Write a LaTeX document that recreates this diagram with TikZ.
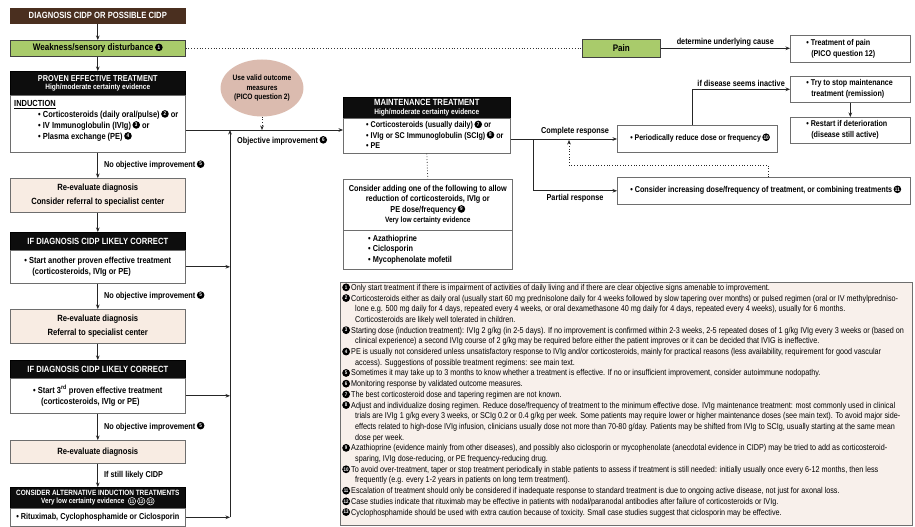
\documentclass[tikz,border=0pt]{standalone}
\usepackage{fontspec}
\setmainfont{Liberation Sans}[FakeStretch=0.85]
\usetikzlibrary{shapes.geometric,arrows.meta}

\definecolor{brownh}{HTML}{4A2F1F}
\definecolor{greenb}{HTML}{A9CB6B}
\definecolor{peach}{HTML}{F8ECE3}
\definecolor{ovalc}{HTML}{DBBBAF}
\definecolor{fnbg}{HTML}{F8F0EB}
\definecolor{bordg}{HTML}{6E6E6E}

\newcommand{\cn}[1]{\smash{\raisebox{3.4pt}{\tikz[baseline=(current bounding box.center)]{\node[circle,fill=black,text=white,inner sep=0pt,minimum size=7.6pt,font=\fontsize{5.4}{6}\selectfont\bfseries] at (0,0) {#1};}}}}
\newcommand{\cno}[1]{\smash{\raisebox{2.7pt}{\tikz[baseline=(current bounding box.center)]{\node[circle,draw=white,line width=0.5pt,text=white,inner sep=0pt,minimum size=7.5pt,font=\fontsize{5.2}{6}\selectfont\bfseries] at (0,0) {#1};}}}}
\newcommand{\fnm}[1]{\smash{\raisebox{3pt}{\tikz[baseline=(current bounding box.center)]{\node[circle,fill=black,text=white,inner sep=0pt,minimum size=7.8pt,font=\fontsize{5.2}{6}\selectfont\bfseries] at (0,0) {#1};}}}\hspace{1.2pt}}

\tikzset{
  box/.style={draw=bordg, line width=0.6pt, anchor=north west, inner sep=0pt, minimum width=175pt, fill=white},
  hdr/.style={box, draw=black, fill=black!95, text=white, font=\fontsize{9}{10}\selectfont\bfseries, align=center},
  body/.style={font=\fontsize{8.8}{11}\selectfont\bfseries},
  txt/.style={body, align=left, inner sep=0pt},
  peachbox/.style={box, fill=peach, align=center, font=\fontsize{9}{14}\selectfont\bfseries},
  greenbox/.style={box, fill=greenb, draw=black!75, font=\fontsize{9.5}{10}\selectfont\bfseries},
  rbox/.style={box, align=left, inner ysep=0pt, font=\fontsize{8.4}{11}\selectfont\bfseries},
  arr/.style={-{Stealth[length=4.5pt,width=3.6pt]}, line width=0.7pt, draw=black!85},
  dots/.style={dotted, line width=0.8pt, draw=black!80},
  lbl/.style={font=\fontsize{8.6}{9}\selectfont\bfseries, inner sep=1pt},
}

\begin{document}
\begin{tikzpicture}[x=1pt,y=-1pt]
\useasboundingbox[fill=white] (0,0) rectangle (915,527);

% ---------------- left column ----------------
\node[hdr, fill=brownh, draw=brownh, minimum height=15] (diag) at (10,8) {DIAGNOSIS CIDP OR POSSIBLE CIDP};
\node[greenbox, minimum height=16] (weak) at (10,40) {Weakness/sensory disturbance\,\cn{1}};
\node[hdr, minimum height=24, font=\fontsize{8.6}{10}\selectfont\bfseries] (proven) at (10,71) {PROVEN EFFECTIVE TREATMENT\\[-1.5pt]{\fontsize{7.7}{8}\selectfont High/moderate certainty evidence}};
\node[box, minimum height=57] (ind) at (10,95) {};
\node[txt, anchor=north west] (indt) at (14,100) {\underline{INDUCTION}\\\hspace*{24pt}• Corticosteroids (daily oral/pulse)\,\cn{2} or\\\hspace*{24pt}• IV Immunoglobulin (IVIg)\,\cn{3} or\\\hspace*{24pt}• Plasma exchange (PE)\,\cn{4}};

\node[peachbox, minimum height=34] (re1) at (10,178) {Re-evaluate diagnosis\\Consider referral to specialist center};
\node[hdr, minimum height=18] (h1) at (10,232) {IF DIAGNOSIS CIDP LIKELY CORRECT};
\node[box, body, align=left, minimum height=33] (s1) at (10,250) {• Start another proven effective treatment\\\hspace*{8pt}(corticosteroids, IVIg or PE)};
\node[peachbox, minimum height=34] (re2) at (10,309) {Re-evaluate diagnosis\\Referral to specialist center};
\node[hdr, minimum height=18] (h2) at (10,360) {IF DIAGNOSIS CIDP LIKELY CORRECT};
\node[box, body, align=left, minimum height=35] (s2) at (10,378) {• Start 3\textsuperscript{rd} proven effective treatment\\\hspace*{8pt}(corticosteroids, IVIg or PE)};
\node[peachbox, minimum height=23] (re3) at (10,440) {Re-evaluate diagnosis};
\node[hdr, minimum height=21, font=\fontsize{7.6}{9}\selectfont\bfseries] (h3) at (10,487) {CONSIDER ALTERNATIVE INDUCTION TREATMENTS\\[-0.5pt]{\fontsize{7.5}{8}\selectfont Very low certainty evidence\ \ \cno{11}\,\cno{12}\,\cno{13}}};
\node[box, font=\fontsize{8.6}{11}\selectfont\bfseries, minimum height=18] (s3) at (10,508) {• Rituximab, Cyclophosphamide or Ciclosporin};

\draw[arr] (diag) -- (weak);
\draw[arr] (weak) -- (proven);
\draw[arr] (ind) -- (re1) node[midway, right=5pt, lbl] (l1) {No objective improvement\,\cn{5}};
\draw[arr] (re1) -- (h1);
\draw[arr] (s1) -- (re2) node[midway, right=5pt, lbl] (l2) {No objective improvement\,\cn{5}};
\draw[arr] (re2) -- (h2);
\draw[arr] (s2) -- (re3) node[midway, right=5pt, lbl] (l3) {No objective improvement\,\cn{5}};
\draw[arr] (re3) -- (h3) node[midway, right=5pt, lbl] (l4) {If still likely CIDP};

% ---------------- middle ----------------
\coordinate (vtop) at (230,130);
\coordinate (vbot) at (230,517);
\node[ellipse, fill=ovalc, minimum width=82, minimum height=57, inner sep=0pt, align=center, font=\fontsize{7.8}{9.5}\selectfont\bfseries] (pico) at (262,88) {Use valid outcome\\measures\\(PICO question 2)};

\node[hdr, minimum width=167, minimum height=21] (mh) at (343,97) {MAINTENANCE TREATMENT\\[-1.5pt]{\fontsize{7.7}{8}\selectfont High/moderate certainty evidence}};
\node[box, minimum width=167, minimum height=35] (mb) at (343,118) {};
\node[txt, anchor=north west, font=\fontsize{8.4}{10.5}\selectfont\bfseries] (mbt) at (366,121.5) {• Corticosteroids (usually daily)\,\cn{7} or\\• IVIg or SC Immunoglobulin (SCIg)\,\cn{8} or\\• PE};

\node[box, minimum width=169, minimum height=51, align=center, font=\fontsize{8.6}{10.5}\selectfont\bfseries] (c1) at (343,179) {Consider adding one of the following to allow\\reduction of corticosteroids, IVIg or\\PE dose/frequency\,\cn{9}\\{\fontsize{7.7}{8}\selectfont Very low certainty evidence}};
\node[box, minimum width=169, minimum height=39] (c2) at (343,230) {};
\node[txt, anchor=north west, font=\fontsize{8.6}{10.5}\selectfont\bfseries] (c2t) at (368,235) {• Azathioprine\\• Ciclosporin\\• Mycophenolate mofetil};

\draw[arr] (ind.east |- vtop) -- (vtop -| mb.west);
\draw[arr] (s1.east) -- (s1.east -| vbot);
\draw[arr] (s2.east) -- (s2.east -| vbot);
\draw[arr] (s3.east) -- (s3.east -| vbot);
\draw[arr] (s3.east -| vbot) -- (vtop);
\draw[dots, arr] (pico.south) -- (pico.south |- vtop);
\node[lbl, anchor=west] (obj) at (236,141) {Objective improvement\,\cn{6}};
\draw[dots] (mb.south) -- (c1.north);

% ---------------- right ----------------
\node[greenbox, minimum width=78, minimum height=18] (pain) at (582,39) {Pain};
\node[rbox, minimum width=120, minimum height=27] (paint) at (790,35) {};
\node[rbox, draw=none, fill=none, minimum width=0pt, anchor=west] (paintt) at (806,48.5) {• Treatment of pain\\\hspace*{5pt}(PICO question 12)};
\draw[dots] (weak.east) -- (weak.east -| pain.west);
\draw[arr] (pain.east) -- (pain.east -| paint.west) node[midway, above=1pt, lbl] (ldet) {determine underlying cause};

\node[rbox, minimum width=120, minimum height=26] (stop) at (790,76) {};
\node[rbox, draw=none, fill=none, minimum width=0pt, anchor=west] (stopt) at (806,89) {• Try to stop maintenance\\\hspace*{5pt}treatment (remission)};
\node[rbox, minimum width=120, minimum height=26] (rest) at (790,117) {};
\node[rbox, draw=none, fill=none, minimum width=0pt, anchor=west] (restt) at (806,130) {• Restart if deterioration\\\hspace*{5pt}(disease still active)};
\draw[arr] (stop) -- (rest);

\node[rbox, minimum width=160, minimum height=27] (per) at (617,125) {};
\node[rbox, draw=none, fill=none, minimum width=0pt, anchor=west, font=\fontsize{8.2}{11}\selectfont\bfseries] (pert) at (630,138.5) {• Periodically reduce dose or frequency\,\cn{10}};
\node[rbox, minimum width=293, minimum height=27] (parb) at (617,177) {};
\node[rbox, draw=none, fill=none, minimum width=0pt, anchor=west, font=\fontsize{8.5}{11}\selectfont\bfseries] (parbt) at (630,190.5) {• Consider increasing dose/frequency of treatment, or combining treatments\,\cn{11}};

\coordinate (cr) at (533,139);
\draw[arr] (mb.east |- cr) -- (cr -| per.west);
\draw[arr] (cr) |- (parb.west);
\node[lbl] (lcr) at (575,131) {Complete response};
\node[lbl] (lpr) at (575,198) {Partial response};
\draw[dots, arr] ([xshift=151pt]parb.north west) -- ++(0,-12) -| (569,140);
\draw[arr] ([xshift=-5pt]per.north) |- (stop.west) node[pos=0.75, above=1pt, lbl] (lin) {if disease seems inactive};

% ---------------- footnotes ----------------
\node[draw=bordg, line width=0.6pt, fill=fnbg, anchor=north west, minimum width=572, minimum height=243, inner sep=0pt] (fnbox) at (340,282) {};
\node[anchor=north west, align=left, inner sep=0pt, font=\fontsize{8.5}{10.7}\selectfont] (fnt) at (342,284) {%
\fnm{1}Only start treatment if there is impairment of activities of daily living and if there are clear objective signs amenable to improvement.\\
\fnm{2}Corticosteroids either as daily oral (usually start 60 mg prednisolone daily for 4 weeks followed by slow tapering over months) or pulsed regimen (oral or IV methylpredniso-\\
\hspace*{13pt}lone e.g. 500 mg daily for 4 days, repeated every 4 weeks, or oral dexamethasone 40 mg daily for 4 days, repeated every 4 weeks), usually for 6 months.\\
\hspace*{13pt}Corticosteroids are likely well tolerated in children.\\
\fnm{3}Starting dose (induction treatment): IVIg 2 g/kg (in 2-5 days). If no improvement is confirmed within 2-3 weeks, 2-5 repeated doses of 1 g/kg IVIg every 3 weeks or (based on\\
\hspace*{13pt}clinical experience) a second IVIg course of 2 g/kg may be required before either the patient improves or it can be decided that IVIG is ineffective.\\
\fnm{4}PE is usually not considered unless unsatisfactory response to IVIg and/or corticosteroids, mainly for practical reasons (less availability, requirement for good vascular\\
\hspace*{13pt}access). Suggestions of possible treatment regimens: see main text.\\
\fnm{5}Sometimes it may take up to 3 months to know whether a treatment is effective. If no or insufficient improvement, consider autoimmune nodopathy.\\
\fnm{6}Monitoring response by validated outcome measures.\\
\fnm{7}The best corticosteroid dose and tapering regimen are not known.\\
\fnm{8}Adjust and individualize dosing regimen. Reduce dose/frequency of treatment to the minimum effective dose. IVIg maintenance treatment: most commonly used in clinical\\
\hspace*{13pt}trials are IVIg 1 g/kg every 3 weeks, or SCIg 0.2 or 0.4 g/kg per week. Some patients may require lower or higher maintenance doses (see main text). To avoid major side-\\
\hspace*{13pt}effects related to high-dose IVIg infusion, clinicians usually dose not more than 70-80 g/day. Patients may be shifted from IVIg to SCIg, usually starting at the same mean\\
\hspace*{13pt}dose per week.\\
\fnm{9}Azathioprine (evidence mainly from other diseases), and possibly also ciclosporin or mycophenolate (anecdotal evidence in CIDP) may be tried to add as corticosteroid-\\
\hspace*{13pt}sparing, IVIg dose-reducing, or PE frequency-reducing drug.\\
\fnm{10}To avoid over-treatment, taper or stop treatment periodically in stable patients to assess if treatment is still needed: initially usually once every 6-12 months, then less\\
\hspace*{13pt}frequently (e.g. every 1-2 years in patients on long term treatment).\\
\fnm{11}Escalation of treatment should only be considered if inadequate response to standard treatment is due to ongoing active disease, not just for axonal loss.\\
\fnm{12}Case studies indicate that rituximab may be effective in patients with nodal/paranodal antibodies after failure of corticosteroids or IVIg.\\
\fnm{13}Cyclophosphamide should be used with extra caution because of toxicity. Small case studies suggest that ciclosporin may be effective.};
\end{tikzpicture}
\end{document}
